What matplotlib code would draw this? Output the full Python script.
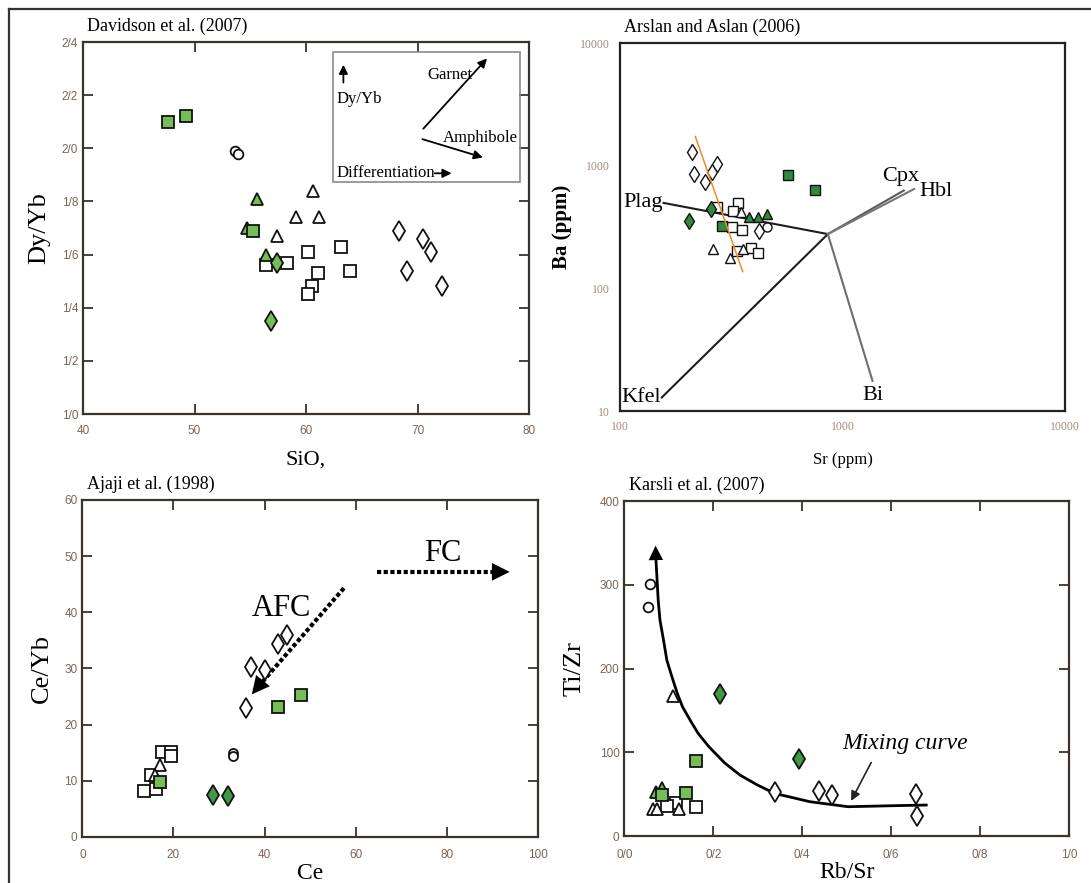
import numpy as np
import matplotlib
matplotlib.use('Agg')
import matplotlib.pyplot as plt
from matplotlib.lines import Line2D
from matplotlib.patches import Rectangle

plt.rcParams['font.family'] = ['Liberation Serif', 'DejaVu Serif']
TICK_FONT = ['Liberation Sans Narrow', 'Liberation Sans', 'DejaVu Sans']
TICK_COL = '#7a6656'
SPINE_COL = '#3a322c'
LGREEN = '#74bf55'
DGREEN = '#3f9a45'
P2GREEN = '#2e8a3c'

# ── Panel 1: Davidson et al. (2007) SiO2 vs Dy/Yb ─────────────────────────────
p1_xticks = [40, 50, 60, 70, 80]
p1_yticks = [1.0, 1.2, 1.4, 1.6, 1.8, 2.0, 2.2, 2.4]
p1_yticklabels = ['1/0', '1/2', '1/4', '1/6', '1/8', '2/0', '2/2', '2/4']
p1_sq_x = [56.4, 58.3, 60.2, 63.1, 61.1, 63.9, 60.5, 60.2]
p1_sq_y = [1.56, 1.57, 1.61, 1.63, 1.53, 1.54, 1.48, 1.45]
p1_tri_x = [60.6, 59.1, 61.2, 57.4]
p1_tri_y = [1.84, 1.74, 1.74, 1.67]
p1_circ_x = [53.6, 53.9]
p1_circ_y = [1.99, 1.98]
p1_dia_x = [68.3, 70.5, 71.2, 69.1, 72.2]
p1_dia_y = [1.69, 1.66, 1.61, 1.54, 1.48]
p1_gtri_x = [55.6, 54.7, 56.4]
p1_gtri_y = [1.81, 1.70, 1.60]
p1_gdia_x = [57.4, 56.9]
p1_gdia_y = [1.57, 1.35]
p1_gsq_x = [47.6, 49.2, 55.2]
p1_gsq_y = [2.10, 2.12, 1.69]

# ── Panel 2: Arslan and Aslan (2006) Sr vs Ba ─────────────────────────────────
p2_ticks_x = [100, 1000, 10000]
p2_ticks_y = [10, 100, 1000, 10000]
p2_dia_x = [210, 214, 241, 258, 274, 423]
p2_dia_y = [1291, 861, 735, 887, 1038, 296]
p2_circ_x = [459]
p2_circ_y = [315]
p2_sq_x = [272, 340, 321, 318, 352, 334, 386, 419]
p2_sq_y = [459, 498, 425, 319, 300, 203, 214, 195]
p2_tri_x = [262, 312, 348, 356]
p2_tri_y = [210, 177, 418, 210]
p2_gdia_x = [205, 256]
p2_gdia_y = [352, 445]
p2_gtri_x = [378, 419, 459]
p2_gtri_y = [380, 380, 405]
p2_gsq_x = [286, 571, 752]
p2_gsq_y = [325, 834, 629]
p2_orange_x = [218, 356]
p2_orange_y = [1729, 137]
p2_hub = (859, 277)
p2_vectors = {'Plag': (157, 497), 'Kfel': (154, 12.9), 'Bi': (1364, 17.6),
              'Cpx': (1885, 627), 'Hbl': (2099, 646)}
p2_vec_cols = {'Plag': '#1e1e1e', 'Kfel': '#1e1e1e', 'Bi': '#6e6e6e',
               'Cpx': '#5a5a5a', 'Hbl': '#777777'}
p2_labels = {'Plag': (127, 503), 'Kfel': (124, 12.8), 'Bi': (1365, 13.3),
             'Cpx': (1820, 815), 'Hbl': (2625, 616)}

# ── Panel 3: Ajaji et al. (1998) Ce vs Ce/Yb ──────────────────────────────────
p3_xticks = [0, 20, 40, 60, 80, 100]
p3_yticks = [0, 10, 20, 30, 40, 50, 60]
p3_sq_x = [13.6, 16.1, 15.1, 17.4, 19.5, 19.5]
p3_sq_y = [8.1, 8.6, 11.0, 15.1, 15.1, 14.4]
p3_tri_x = [17.0, 16.0]
p3_tri_y = [12.8, 11.0]
p3_circ_x = [33.0, 33.0]
p3_circ_y = [14.9, 14.4]
p3_dia_x = [35.9, 37.0, 40.0, 42.9, 45.0]
p3_dia_y = [22.9, 30.3, 29.7, 34.3, 35.9]
p3_gdia_x = [28.6, 32.0]
p3_gdia_y = [7.4, 7.3]
p3_gsq_x = [17.0, 42.9, 47.9]
p3_gsq_y = [9.8, 23.2, 25.3]
p3_afc = [(57.4, 44.3), (36.8, 25.0)]
p3_fc = [(64.7, 47.2), (94.4, 47.2)]

# ── Panel 4: Karsli et al. (2007) Rb/Sr vs Ti/Zr ──────────────────────────────
p4_xticks = [0.0, 0.2, 0.4, 0.6, 0.8, 1.0]
p4_xticklabels = ['0/0', '0/2', '0/4', '0/6', '0/8', '1/0']
p4_yticks = [0, 100, 200, 300, 400]
p4_circ_x = [0.058, 0.054]
p4_circ_y = [301, 273]
p4_tri_x = [0.110, 0.064, 0.074, 0.123]
p4_tri_y = [167, 32, 32, 32]
p4_sq_x = [0.162, 0.117, 0.095]
p4_sq_y = [35, 39, 36]
p4_dia_x = [0.338, 0.438, 0.467, 0.655, 0.658]
p4_dia_y = [52, 54, 49, 50, 24]
p4_gtri_x = [0.084, 0.072]
p4_gtri_y = [57, 53]
p4_gsq_x = [0.162, 0.139, 0.084]
p4_gsq_y = [89.6, 51.7, 49]
p4_gdia_x = [0.215, 0.393]
p4_gdia_y = [170, 92]
mix_x = [0.679, 0.605, 0.503, 0.417, 0.338, 0.299, 0.260, 0.225, 0.190, 0.166,
         0.150, 0.131, 0.119, 0.107, 0.0955, 0.088, 0.080, 0.076, 0.074, 0.071]
mix_y = [37.0, 36.2, 35.0, 41.0, 50.9, 61.0, 72.8, 87.5, 106.7, 122.5,
         136.5, 154.0, 170.3, 190.0, 210.1, 234.0, 258.0, 282.0, 301.7, 330.0]


def style_axes(ax, color=SPINE_COL):
    for s in ax.spines.values():
        s.set_color(color)
        s.set_linewidth(1.6)
    ax.tick_params(which='both', direction='in', top=True, right=True,
                   length=7, width=1.3, color=color, labelcolor=TICK_COL,
                   labelsize=8.5)
    for lab in ax.get_xticklabels() + ax.get_yticklabels():
        lab.set_family(TICK_FONT)


def pts(ax, x, y, marker, face, ms, z=3, mew=1.3):
    ax.plot(x, y, linestyle='none', marker=marker, ms=ms, mfc=face,
            mec='#111111', mew=mew, zorder=z)


def panel_title(ax, text):
    ax.annotate(text, xy=(0, 1), xycoords='axes fraction', xytext=(3, 5),
                textcoords='offset points', ha='left', va='bottom', fontsize=13)


fig = plt.figure(figsize=(10.91, 8.83), dpi=100)

# ── Panel 1 ──
ax1 = fig.add_axes([0.0761, 0.5311, 0.4088, 0.4213])
pts(ax1, p1_sq_x, p1_sq_y, 's', 'white', 8.5)
pts(ax1, p1_tri_x, p1_tri_y, '^', 'white', 9)
pts(ax1, p1_circ_x, p1_circ_y, 'o', 'white', 7)
pts(ax1, p1_dia_x, p1_dia_y, 'd', 'white', 10)
pts(ax1, p1_gtri_x, p1_gtri_y, '^', LGREEN, 9, 4)
pts(ax1, p1_gdia_x, p1_gdia_y, 'd', LGREEN, 10, 4)
pts(ax1, p1_gsq_x, p1_gsq_y, 's', LGREEN, 8.5, 5)
ax1.set_xlim(40, 80)
ax1.set_ylim(1.0, 2.4)
ax1.set_xticks(p1_xticks)
ax1.set_yticks(p1_yticks)
ax1.set_yticklabels(p1_yticklabels)
ax1.tick_params(axis='x', pad=8)
style_axes(ax1)
ax1.set_xlabel('SiO,', fontsize=16, labelpad=10)
ax1.set_ylabel('Dy/Yb', fontsize=19, labelpad=8)
panel_title(ax1, 'Davidson et al. (2007)')
ax1.add_patch(Rectangle((0.56, 0.625), 0.42, 0.348, transform=ax1.transAxes,
                        fill=False, edgecolor='#8a8a8a', lw=1.2, zorder=2))
arw = dict(arrowstyle='-|>', color='k', lw=1.3, mutation_scale=13)
ax1.annotate('', xy=(63.35, 2.325), xytext=(63.35, 2.237), arrowprops=arw)
ax1.text(62.7, 2.185, 'Dy/Yb', fontsize=12, va='center', ha='left')
ax1.annotate('', xy=(76.4, 2.346), xytext=(70.35, 2.066), arrowprops=arw)
ax1.text(74.9, 2.275, 'Garnet', fontsize=12, va='center', ha='right')
ax1.annotate('', xy=(76.1, 1.9625), xytext=(70.2, 2.0375), arrowprops=arw)
ax1.text(75.6, 2.04, 'Amphibole', fontsize=12, va='center', ha='center')
ax1.text(62.7, 1.906, 'Differentiation', fontsize=12, va='center', ha='left')
ax1.annotate('', xy=(73.3, 1.906), xytext=(71.3, 1.906), arrowprops=arw)

# ── Panel 2 ──
ax2 = fig.add_axes([0.5683, 0.5345, 0.4079, 0.4168])
ax2.set_xscale('log')
ax2.set_yscale('log')
hx, hy = p2_hub
for name, (vx, vy) in p2_vectors.items():
    ax2.plot([vx, hx], [vy, hy], color=p2_vec_cols[name], lw=1.5, zorder=2)
for name, (lx, ly) in p2_labels.items():
    ax2.text(lx, ly, name, fontsize=16, ha='center', va='center', zorder=6)
pts(ax2, p2_sq_x, p2_sq_y, 's', 'white', 6.5, mew=1.0)
pts(ax2, p2_tri_x, p2_tri_y, '^', 'white', 6.5, mew=1.0)
pts(ax2, p2_dia_x, p2_dia_y, 'd', 'white', 8, mew=1.0)
pts(ax2, p2_circ_x, p2_circ_y, 'o', 'white', 6.5, mew=1.0)
pts(ax2, p2_gdia_x, p2_gdia_y, 'd', P2GREEN, 8, 4, mew=1.0)
pts(ax2, p2_gtri_x, p2_gtri_y, '^', P2GREEN, 6.5, 4, mew=1.0)
pts(ax2, p2_gsq_x, p2_gsq_y, 's', P2GREEN, 6.5, 4, mew=1.0)
ax2.plot(p2_orange_x, p2_orange_y, color='#f08a24', lw=1.1, zorder=5)
ax2.set_xlim(100, 10000)
ax2.set_ylim(10, 10000)
ax2.set_xticks(p2_ticks_x)
ax2.set_xticklabels([str(v) for v in p2_ticks_x])
ax2.set_yticks(p2_ticks_y)
ax2.set_yticklabels([str(v) for v in p2_ticks_y])
ax2.minorticks_off()
for s in ax2.spines.values():
    s.set_color('#222222')
    s.set_linewidth(1.6)
ax2.tick_params(length=0, labelsize=8.5, labelcolor='#a08d7d', pad=7)
ax2.set_xlabel('Sr (ppm)', fontsize=12, labelpad=14)
ax2.set_ylabel('Ba (ppm)', fontsize=15, fontweight='bold', labelpad=6)
panel_title(ax2, 'Arslan and Aslan (2006)')

# ── Panel 3 ──
ax3 = fig.add_axes([0.0755, 0.0521, 0.4176, 0.3817])
pts(ax3, p3_sq_x, p3_sq_y, 's', 'white', 9)
pts(ax3, p3_tri_x, p3_tri_y, '^', 'white', 8)
pts(ax3, p3_circ_x, p3_circ_y, 'o', 'white', 6.5)
pts(ax3, p3_dia_x, p3_dia_y, 'd', 'white', 10)
pts(ax3, p3_gdia_x, p3_gdia_y, 'd', DGREEN, 10, 4)
pts(ax3, p3_gsq_x, p3_gsq_y, 's', LGREEN, 9, 4)
(ax0, ay0), (ax_e, ay_e) = p3_afc
ax3.plot([ax0, ax_e + 1.2], [ay0, ay_e + 1.2], color='k', lw=3, linestyle=(0, (1, 0.6)))
ax3.annotate('', xy=(ax_e, ay_e), xytext=(ax_e + 2.5, ay_e + 2.5),
             arrowprops=dict(arrowstyle='-|>', color='k', lw=0, mutation_scale=32))
(fx0, fy0), (fx_e, fy_e) = p3_fc
ax3.plot([fx0, fx_e - 2], [fy0, fy_e], color='k', lw=3, linestyle=(0, (1, 0.6)))
ax3.annotate('', xy=(fx_e, fy_e), xytext=(fx_e - 4, fy_e),
             arrowprops=dict(arrowstyle='-|>', color='k', lw=0, mutation_scale=32))
ax3.text(43.7, 40.7, 'AFC', fontsize=22, ha='center', va='center')
ax3.text(79.0, 50.5, 'FC', fontsize=22, ha='center', va='center')
ax3.set_xlim(0, 100)
ax3.set_ylim(0, 60)
ax3.set_xticks(p3_xticks)
ax3.set_yticks(p3_yticks)
ax3.tick_params(axis='x', pad=9)
style_axes(ax3)
ax3.set_xlabel('Ce', fontsize=17, labelpad=1)
ax3.set_ylabel('Ce/Yb', fontsize=19, labelpad=8)
panel_title(ax3, 'Ajaji et al. (1998)')

# ── Panel 4 ──
ax4 = fig.add_axes([0.5723, 0.0532, 0.4075, 0.3794])
ax4.plot(mix_x, mix_y, color='k', lw=2, zorder=2)
ax4.annotate('', xy=(0.070, 350), xytext=(0.071, 325),
             arrowprops=dict(arrowstyle='-|>', color='k', lw=0, mutation_scale=26))
pts(ax4, p4_sq_x, p4_sq_y, 's', 'white', 8)
pts(ax4, p4_tri_x, p4_tri_y, '^', 'white', 8)
pts(ax4, p4_circ_x, p4_circ_y, 'o', 'white', 7)
pts(ax4, p4_dia_x, p4_dia_y, 'd', 'white', 10)
pts(ax4, p4_gtri_x, p4_gtri_y, '^', LGREEN, 8, 4)
pts(ax4, p4_gsq_x, p4_gsq_y, 's', LGREEN, 8, 4)
pts(ax4, p4_gdia_x, p4_gdia_y, 'd', DGREEN, 10, 4)
ax4.text(0.632, 110.6, 'Mixing curve', fontsize=17, style='italic',
         ha='center', va='center')
ax4.annotate('', xy=(0.507, 39), xytext=(0.558, 90.7),
             arrowprops=dict(arrowstyle='-|>', color='#222222', lw=1.2, mutation_scale=14))
ax4.set_xlim(0, 1.0)
ax4.set_ylim(0, 400)
ax4.set_xticks(p4_xticks)
ax4.set_xticklabels(p4_xticklabels)
ax4.set_yticks(p4_yticks)
ax4.tick_params(axis='x', pad=9)
style_axes(ax4)
ax4.set_xlabel('Rb/Sr', fontsize=17, labelpad=1)
ax4.set_ylabel('Ti/Zr', fontsize=19, labelpad=10)
panel_title(ax4, 'Karsli et al. (2007)')

# outer frame (top and left edges visible)
fig.add_artist(Line2D([9 / 1091, 1.0], [1 - 9 / 883, 1 - 9 / 883],
                      transform=fig.transFigure, color='#333333', lw=1.6))
fig.add_artist(Line2D([9 / 1091, 9 / 1091], [0.0, 1 - 9 / 883],
                      transform=fig.transFigure, color='#333333', lw=1.6))

fig.savefig('out.png', dpi=100)
